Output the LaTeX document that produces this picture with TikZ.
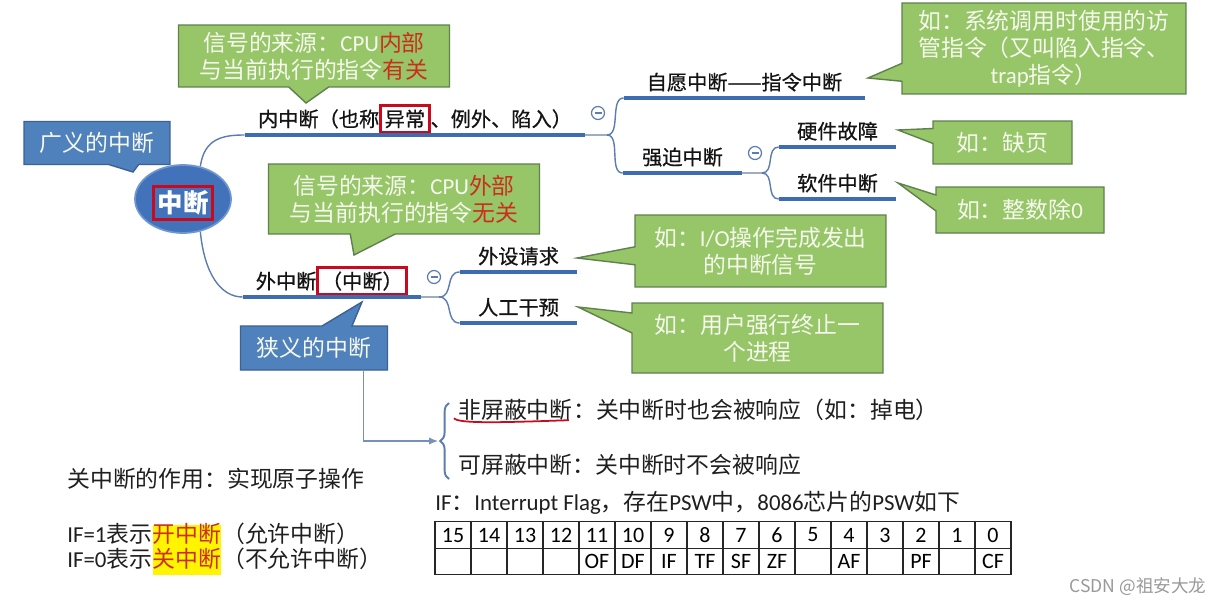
\documentclass[tikz,border=0pt]{standalone}
\usepackage{fontspec}
\setmainfont{Noto Sans CJK SC}
\newfontfamily\lat{Carlito}
\newfontfamily\heavyish{Noto Sans CJK SC}[FakeBold=0.6]
\usetikzlibrary{shapes.geometric, shapes.callouts, positioning, calc, decorations.pathreplacing, arrows.meta}

\definecolor{notegreen}{RGB}{150,198,104}
\definecolor{noteedge}{RGB}{96,128,78}
\definecolor{notetext}{RGB}{246,248,238}
\definecolor{noteblue}{RGB}{79,129,189}
\definecolor{blueedge}{RGB}{58,98,150}
\definecolor{rootblue}{RGB}{66,114,186}
\definecolor{rootedge}{RGB}{110,150,208}
\definecolor{branchblue}{RGB}{62,108,178}
\definecolor{twigblue}{RGB}{92,124,178}
\definecolor{stubgrey}{RGB}{160,172,192}
\definecolor{boxred}{RGB}{200,10,30}
\definecolor{hotred}{RGB}{205,45,30}
\definecolor{hlyellow}{RGB}{255,245,0}

\newcommand{\redbox}[2]{\raisebox{0pt}[\height][0pt]{\fboxsep=1.5pt\fboxrule=1.6pt\color{boxred}\fbox{\color{#1}#2}}}

\tikzset{
  branch/.style={inner xsep=0pt, inner ysep=3.5pt, anchor=south, text=black!92, font=\heavyish\fontsize{11.5}{13}\selectfont},
  uline/.style={branchblue, line width=1.8pt},
  twig/.style={twigblue, line width=0.8pt},
  stub/.style={stubgrey, line width=1pt},
  greennote/.style={rectangle callout, fill=notegreen, draw=noteedge, line width=0.8pt, text=notetext, align=center, inner sep=0pt, font=\fontsize{13}{15.5}\selectfont},
  bluenote/.style={rectangle callout, fill=noteblue, draw=blueedge, line width=0.8pt, text=notetext, inner sep=0pt, font=\fontsize{13}{15.5}\selectfont},
  fold/.style={circle, draw=twigblue, line width=0.7pt, fill=white, minimum size=0.26cm, inner sep=0pt,
    path picture={\draw[twigblue, line width=0.7pt] ([xshift=-0.07cm]path picture bounding box.center) -- ([xshift=0.07cm]path picture bounding box.center);}},
  bodytext/.style={inner sep=0pt, text=black!88, font=\fontsize{13}{15.5}\selectfont, text height=0.9em, text depth=0.22em},
  hl/.style={fill=hlyellow, text=hotred, minimum height=0.5cm},
  cell/.style={draw=black!85, line width=0.8pt, minimum width=0.72cm, minimum height=0.53cm, inner sep=0pt, font=\lat\fontsize{12.5}{14}\selectfont},
  guide/.style={twigblue!85, line width=0.7pt, -{Latex[length=5pt,width=4pt]}},
  pair brace/.style={twigblue, line width=1.1pt, decorate, decoration={brace, amplitude=5pt}}
}

\begin{document}
\begin{tikzpicture}[x=0.02cm, y=-0.02cm]
  \useasboundingbox (0,0) rectangle (1222,605);
  \fill[white] (0,0) rectangle (1222,605);

  % mind map
  \node[bluenote, minimum width=2.92cm, minimum height=0.86cm, callout absolute pointer={(133,172)}, callout pointer width=0.6cm] (broad) at (97,143) {广义的中断};
  \node[ellipse, fill=rootblue, draw=rootedge, line width=1pt, minimum width=1.92cm, minimum height=1.36cm, inner sep=0pt, text=white, font=\fontsize{14.5}{16}\selectfont\bfseries] (zd) at (183,199) {\redbox{white}{中断}};

  \node[branch, minimum width=6.8cm] (nei) at (415,135) {内中断（也称\redbox{black!92}{异常}、例外、陷入）};
  \node[branch, minimum width=3.56cm] (wai) at (332,297) {外中断\redbox{black!92}{（中断）}};
  \node[branch, minimum width=4.82cm] (zy) at (744.5,98) {自愿中断——指令中断};
  \node[branch, minimum width=2.38cm] (qp) at (682.5,173) {强迫中断};
  \node[branch, minimum width=2.34cm] (yj) at (837.5,147) {硬件故障};
  \node[branch, minimum width=2.34cm] (rj) at (837.5,199) {软件中断};
  \node[branch, minimum width=2.34cm] (ws) at (518.5,272) {外设请求};
  \node[branch, minimum width=2.34cm] (rg) at (518.5,323) {人工干预};
  \foreach \b in {nei,wai,zy,qp,yj,rj,ws,rg}
    \draw[uline] (\b.south west) -- (\b.south east);

  \coordinate (nb) at (607,135);
  \coordinate (qb) at (762,173);
  \coordinate (wb) at (439,297);
  \draw[stub] (nei.south east) -- (nb);
  \draw[stub] (qp.south east) -- (qb);
  \draw[stub] (wai.south east) -- (wb);
  \draw[twig] (zd.62) .. controls +(4,-28) and +(-22,0) .. (nei.south west);
  \draw[twig] (zd.-62) .. controls +(4,42) and +(-22,0) .. (wai.south west);
  \draw[twig] (nb) .. controls +(14,0) and +(-14,0) .. (zy.south west);
  \draw[twig] (nb) .. controls +(14,0) and +(-14,0) .. (qp.south west);
  \draw[twig] (qb) .. controls +(13,0) and +(-13,0) .. (yj.south west);
  \draw[twig] (qb) .. controls +(13,0) and +(-13,0) .. (rj.south west);
  \draw[twig] (wb) .. controls +(15,0) and +(-15,0) .. (ws.south west);
  \draw[twig] (wb) .. controls +(15,0) and +(-15,0) .. (rg.south west);

  \node[fold] (m1) at (598,113) {};
  \node[fold] (m2) at (755,153) {};
  \node[fold] (m3) at (434,277) {};

  % notes
  \node[greennote, minimum width=5.42cm, minimum height=1.24cm, callout absolute pointer={(306,103)}, callout pointer width=0.8cm] (src1) at (314,56)
    {信号的来源：{\lat CPU}\textcolor{hotred}{内部}\\与当前执行的指令\textcolor{hotred}{有关}};
  \node[greennote, minimum width=5.42cm, minimum height=1.40cm, callout absolute pointer={(354,255)}, callout pointer width=0.9cm] (src2) at (404,199)
    {信号的来源：{\lat CPU}\textcolor{hotred}{外部}\\与当前执行的指令\textcolor{hotred}{无关}};
  \node[bluenote, minimum width=2.94cm, minimum height=0.88cm, callout absolute pointer={(362,302)}, callout pointer width=0.6cm] (narrow) at (314,348) {狭义的中断};
  \node[greennote, minimum width=5.68cm, minimum height=1.82cm, callout absolute pointer={(868,78)}, callout pointer width=0.36cm] (trap) at (1044,48.5)
    {如：系统调用时使用的访\\管指令（又叫陷入指令、\\{\lat trap}指令）};
  \node[greennote, minimum width=2.78cm, minimum height=0.86cm, callout absolute pointer={(898,130)}, callout pointer width=0.3cm] (page) at (1002.5,142.5) {如：缺页};
  \node[greennote, minimum width=3.36cm, minimum height=0.92cm, callout absolute pointer={(898,183)}, callout pointer width=0.32cm] (div) at (1020,210) {如：整数除{\lat 0}};
  \node[greennote, minimum width=5.02cm, minimum height=1.44cm, callout absolute pointer={(577,258)}, callout pointer width=0.36cm] (io) at (760.5,251)
    {如：{\lat I/O}操作完成发出\\的中断信号};
  \node[greennote, minimum width=5.02cm, minimum height=1.40cm, callout absolute pointer={(578,307)}, callout pointer width=0.4cm] (kill) at (757.5,338)
    {如：用户强行终止一\\个进程};

  % narrow sense: two kinds
  \node[bodytext, anchor=west] (fp1) at (458,413) {非屏蔽中断};
  \node[bodytext, right=0pt of fp1] (fp2) {：关中断时也会被响应（如：掉电）};
  \node[bodytext, anchor=west] (kp) at (458,468) {可屏蔽中断：关中断时不会被响应};
  \draw[boxred, line width=1pt] ($(fp1.south west)+(-4,-5)$) .. controls +(4,6) and +(-60,2) .. ($(fp1.south east)+(-4,-3)$);
  \coordinate (bt) at (449,403);
  \coordinate (bb) at (449,479);
  \coordinate (btip) at (438,441);
  \draw[pair brace] (bb) -- (bt);
  \draw[guide] ($(narrow.south east)+(-25,0)$) |- (btip);

  % IF flag
  \node[bodytext, anchor=west] (atom) at (67,482) {关中断的作用：实现原子操作};
  \node[bodytext, anchor=west] (on1) at (67,537) {{\lat IF=1}表示};
  \node[bodytext, hl, right=0pt of on1] (on2) {开中断};
  \node[bodytext, right=0pt of on2] (on3) {（允许中断）};
  \node[bodytext, anchor=west] (off1) at (67,562) {{\lat IF=0}表示};
  \node[bodytext, hl, right=0pt of off1] (off2) {关中断};
  \node[bodytext, right=0pt of off2] (off3) {（不允许中断）};

  \node[bodytext, anchor=west] (psw) at (435,505) {{\lat IF}：{\lat Interrupt Flag}，存在{\lat PSW}中，{\lat 8086}芯片的{\lat PSW}如下};
  \foreach \flag [count=\i from 0] in {{},{},{},{},OF,DF,IF,TF,SF,ZF,{},AF,{},PF,{},CF} {
    \pgfmathtruncatemacro{\bit}{15-\i}
    \node[cell] (bit\bit) at (453+36*\i,535) {\bit};
    \node[cell] (flag\bit) at (453+36*\i,561.5) {\flag};
  }

  \node[text=black!40, font=\fontsize{10}{12}\selectfont] (mark) at (1138,587) {CSDN @祖安大龙};
\end{tikzpicture}
\end{document}
